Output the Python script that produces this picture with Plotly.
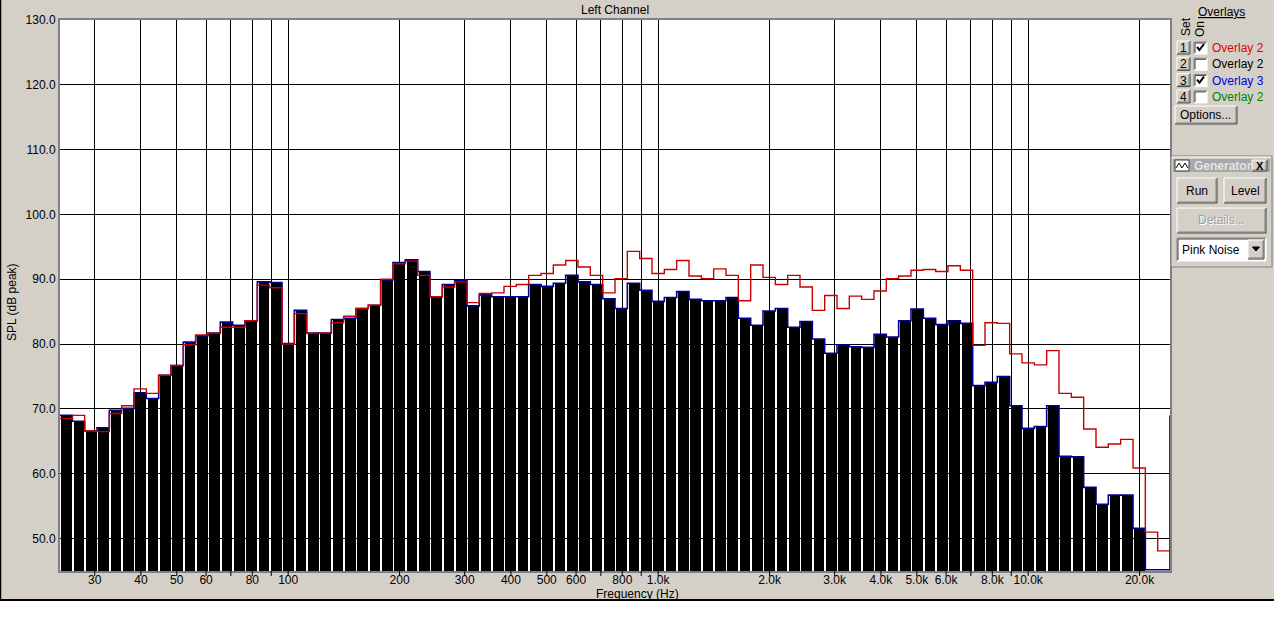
import math
import plotly.graph_objects as go

# ---------------- data ----------------
# 1/30-decade analyser bands, band 48 centred on 1 kHz
BAND_COUNT = 90
BANDS_PER_DECADE = 30
band_centre_hz = [1000.0 * 10 ** ((i - 48) / BANDS_PER_DECADE) for i in range(BAND_COUNT)]

# current measurement (black bars), dB peak ; last two bands have no data
measured_spl = [
    69.0, 68.1, 66.6, 67.1, 69.8, 70.1, 72.5, 71.6, 75.2, 76.7,
    80.3, 81.3, 81.7, 83.4, 82.9, 83.6, 89.6, 89.5, 80.1, 85.2,
    81.7, 81.7, 83.8, 84.0, 85.5, 86.0, 89.9, 92.6, 93.0, 91.2,
    87.3, 89.2, 89.8, 85.9, 87.6, 87.3, 87.3, 87.3, 89.2, 88.9,
    89.4, 90.6, 89.6, 89.2, 87.0, 85.5, 89.4, 88.3, 86.6, 87.2,
    88.1, 86.9, 86.7, 86.7, 87.2, 84.0, 82.9, 85.1, 85.5, 82.6,
    83.5, 80.8, 78.6, 79.9, 79.6, 79.5, 81.5, 81.1, 83.6, 85.4,
    84.0, 83.0, 83.6, 83.2, 73.6, 74.1, 75.0, 70.5, 67.0, 67.3,
    70.5, 62.7, 62.6, 57.9, 55.3, 56.7, 56.7, 51.6, None, None,
]

# Overlay 2 (red step trace)
overlay2_spl = [
    68.5, 69.0, 66.6, 66.5, 69.3, 70.5, 73.1, 72.4, 75.2, 76.7,
    79.9, 81.4, 81.7, 82.6, 82.6, 83.6, 89.1, 88.7, 80.0, 84.7,
    81.7, 81.7, 83.3, 84.3, 85.5, 86.0, 90.0, 92.4, 92.8, 90.6,
    87.3, 88.8, 89.6, 86.4, 87.8, 87.9, 88.9, 89.2, 90.6, 90.9,
    92.2, 92.9, 91.9, 90.6, 87.9, 90.1, 94.3, 93.2, 90.9, 91.5,
    92.9, 90.5, 90.1, 91.6, 90.6, 86.7, 92.2, 90.3, 89.2, 90.6,
    88.8, 85.2, 87.5, 85.5, 87.4, 86.9, 88.2, 90.1, 90.5, 91.4,
    91.5, 91.2, 92.1, 91.4, 79.8, 83.3, 83.2, 78.5, 77.1, 76.8,
    79.0, 72.4, 71.8, 66.9, 64.1, 64.6, 65.3, 60.9, 51.0, 48.1,
]

# Overlay 3 (blue step trace) ; sits on the floor for the last two bands
overlay3_spl = [
    69.0, 68.1, 66.6, 67.1, 69.8, 70.1, 72.5, 71.6, 75.2, 76.7,
    80.3, 81.3, 81.7, 83.4, 82.9, 83.6, 89.6, 89.5, 80.1, 85.2,
    81.7, 81.7, 83.8, 84.0, 85.5, 86.0, 89.9, 92.6, 93.0, 91.2,
    87.3, 89.2, 89.8, 85.9, 87.6, 87.3, 87.3, 87.3, 89.2, 88.9,
    89.4, 90.6, 89.6, 89.2, 87.0, 85.5, 89.4, 88.3, 86.6, 87.2,
    88.1, 86.9, 86.7, 86.7, 87.2, 84.0, 82.9, 85.1, 85.5, 82.6,
    83.5, 80.8, 78.6, 79.9, 79.6, 79.5, 81.5, 81.1, 83.6, 85.4,
    84.0, 83.0, 83.6, 83.2, 73.6, 74.1, 75.0, 70.5, 67.0, 67.3,
    70.5, 62.7, 62.6, 57.9, 55.3, 56.7, 56.7, 51.6, 45.2, 45.2,
]
overlay3_next_band_spl = 69.0   # step just beyond the right edge

x_tick_hz = [30, 40, 50, 60, 70, 80, 90, 100, 200, 300, 400, 500, 600, 700, 800, 900,
             1000, 2000, 3000, 4000, 5000, 6000, 7000, 8000, 9000, 10000, 20000]
x_tick_text = ["30", "40", "50", "60", "", "80", "", "100", "200", "300", "400", "500",
               "600", "", "800", "", "1.0k", "2.0k", "3.0k", "4.0k", "5.0k", "6.0k", "",
               "8.0k", "", "10.0k", "20.0k"]
y_tick_db = [50, 60, 70, 80, 90, 100, 110, 120, 130]

overlay_rows = [("1", True, "Overlay 2", "#E00000"),
                ("2", False, "Overlay 2", "#000000"),
                ("3", True, "Overlay 3", "#0000E0"),
                ("4", False, "Overlay 2", "#008000")]

# ---------------- geometry / style ----------------
W, H = 1274, 637
ML, MR, MT, MB = 60, 104, 20, 66
PW, PH = W - ML - MR, H - MT - MB
GRAY = "#D4D0C8"
FONT = "Liberation Sans, Arial, sans-serif"
HALF = 0.5 / BANDS_PER_DECADE

log_f = [math.log10(f) for f in band_centre_hz]
edges = [v - HALF for v in log_f] + [log_f[-1] + HALF]
x_range = [edges[0], edges[-1]]

fig = go.Figure()
bar_w = 0.865 / BANDS_PER_DECADE
fig.add_trace(go.Bar(x=log_f, y=measured_spl, width=bar_w, offset=-bar_w / 2 + 0.0011,
                     marker=dict(color="black", line=dict(width=0)), showlegend=False))
fig.add_trace(go.Scatter(x=edges, y=overlay3_spl + [overlay3_next_band_spl],
                         mode="lines", line=dict(shape="hv", color="#000090", width=1.6),
                         showlegend=False))
fig.add_trace(go.Scatter(x=edges, y=overlay2_spl + [overlay2_spl[-1]],
                         mode="lines", line=dict(shape="hv", color="#C80000", width=1.4),
                         showlegend=False))


def X(px):
    return (px - ML) / PW


def Y(py):
    return (MT + PH - py) / PH


shapes = []
annotations = []

# x tick marks below the axis (at every grid frequency)
for f in x_tick_hz:
    shapes.append(dict(type="line", xref="x", yref="paper", x0=math.log10(f), x1=math.log10(f),
                       y0=0, y1=-5 / PH, line=dict(color="black", width=1)))


def rect(x0, y0, x1, y1, fill, line=None, lw=1):
    shapes.append(dict(type="rect", xref="paper", yref="paper", x0=X(x0), x1=X(x1),
                       y0=Y(y1), y1=Y(y0), fillcolor=fill, layer="above",
                       line=dict(color=line if line else fill, width=lw if line else 0)))


def seg(x0, y0, x1, y1, color, w=1):
    shapes.append(dict(type="line", xref="paper", yref="paper", x0=X(x0), y0=Y(y0),
                       x1=X(x1), y1=Y(y1), layer="above", line=dict(color=color, width=w)))


def raised(x0, y0, x1, y1):
    rect(x0, y0, x1, y1, GRAY)
    seg(x0, y0, x1, y0, "white"); seg(x0, y0, x0, y1, "white")
    seg(x0, y1, x1, y1, "#404040"); seg(x1, y0, x1, y1, "#404040")
    seg(x0 + 1, y1 - 1, x1 - 1, y1 - 1, "#808080"); seg(x1 - 1, y0 + 1, x1 - 1, y1 - 1, "#808080")


def sunken(x0, y0, x1, y1, fill="white"):
    rect(x0, y0, x1, y1, fill)
    seg(x0, y0, x1, y0, "#808080"); seg(x0, y0, x0, y1, "#808080")
    seg(x0 + 1, y0 + 1, x1 - 1, y0 + 1, "#404040"); seg(x0 + 1, y0 + 1, x0 + 1, y1 - 1, "#404040")
    seg(x0, y1, x1, y1, "white"); seg(x1, y0, x1, y1, "white")


def text(x, y, s, size=12, color="black", xanchor="center", angle=0):
    annotations.append(dict(x=X(x), y=Y(y), xref="paper", yref="paper", text=s,
                            showarrow=False, xanchor=xanchor, yanchor="middle",
                            textangle=angle, font=dict(family=FONT, size=size, color=color)))


# white strip below the window, window frame lines
rect(-5, 600, W + 5, H + 5, "white")
seg(0, 600, W, 600, "black", 2)
seg(0.5, 0, 0.5, 600, "black", 1.5)

# titles
text(ML + PW / 2, 10, "Left Channel")
text(637, 594, "Frequency (Hz)")
text(12, 302, "SPL (dB peak)", angle=-90)

# overlay panel
text(1221, 12, "<u>Overlays</u>")
text(1186, 27, "Set", angle=-90)
text(1200, 29, "On", angle=-90)
for i, (num, checked, label, col) in enumerate(overlay_rows):
    cy = 48 + 16.3 * i
    raised(1177, cy - 7, 1190, cy + 6)
    text(1183.5, cy, num, size=12)
    sunken(1194, cy - 6, 1207, cy + 6)
    if checked:
        shapes.append(dict(type="path", xref="paper", yref="paper", layer="above",
                           path="M %f %f L %f %f L %f %f" % (X(1197), Y(cy - 1), X(1199.5), Y(cy + 2),
                                                             X(1204), Y(cy - 4)),
                           line=dict(color="black", width=2)))
    text(1210, cy, label, color=col, xanchor="left")
raised(1175, 106, 1237, 124)
text(1206, 115, "Options...")

# generator panel
rect(1171, 156, 1272, 267, GRAY, "#808080", 1)
seg(1172, 157, 1271, 157, "white")
rect(1173, 159, 1270, 172, "#A8A8A8")
rect(1175, 160, 1189, 171, "white", "#404040", 1)
shapes.append(dict(type="path", xref="paper", yref="paper", layer="above",
                   path="M %f %f L %f %f L %f %f L %f %f L %f %f" % (
                       X(1176), Y(168), X(1179), Y(163), X(1182), Y(168), X(1185), Y(163), X(1188), Y(168)),
                   line=dict(color="black", width=1)))
text(1192, 165.5, "<b>Generator</b>", color="#E4E4E4", xanchor="left")
raised(1252, 160, 1267, 171)
text(1259.5, 165.5, "<b>X</b>", size=11)
raised(1177, 178, 1217, 203)
text(1197, 190.5, "Run")
raised(1224, 178, 1266, 203)
text(1245, 190.5, "Level")
raised(1177, 208, 1266, 233)
text(1222.5, 221.5, "Details...", color="white")
text(1221.5, 220.5, "Details...", color="#A0A0A0")
sunken(1177, 238, 1266, 261)
text(1180, 249.5, "Pink Noise", xanchor="left")
raised(1248, 240, 1264, 259)
shapes.append(dict(type="path", xref="paper", yref="paper", layer="above",
                   path="M %f %f L %f %f L %f %f Z" % (X(1252.5), Y(247), X(1259.5), Y(247), X(1256), Y(251)),
                   fillcolor="black", line=dict(color="black", width=1)))

fig.update_layout(
    width=W, height=H, margin=dict(l=ML, r=MR, t=MT, b=MB, pad=0),
    paper_bgcolor=GRAY, plot_bgcolor="white",
    font=dict(family=FONT, size=12, color="black"),
    bargap=0, showlegend=False,
    shapes=shapes, annotations=annotations,
    xaxis=dict(range=x_range, tickmode="array",
               tickvals=[math.log10(f) for f in x_tick_hz], ticktext=x_tick_text,
               showgrid=True, gridcolor="black", gridwidth=1, zeroline=False,
               ticks="", ticklabelstandoff=-3,
               showline=True, linecolor="#808080", linewidth=2, mirror=True,
               tickfont=dict(family=FONT, size=12, color="black"), fixedrange=True),
    yaxis=dict(range=[45, 130], tickmode="array", tickvals=y_tick_db,
               ticktext=["%.1f" % v for v in y_tick_db],
               showgrid=True, gridcolor="black", gridwidth=1, zeroline=False,
               ticks="", showline=True, linecolor="#808080", linewidth=2, mirror=True,
               tickfont=dict(family=FONT, size=12, color="black"), fixedrange=True),
)

fig.write_html("out.html", config={"displayModeBar": False},
               post_script="document.body.style.margin='0';document.body.style.overflow='hidden';")
